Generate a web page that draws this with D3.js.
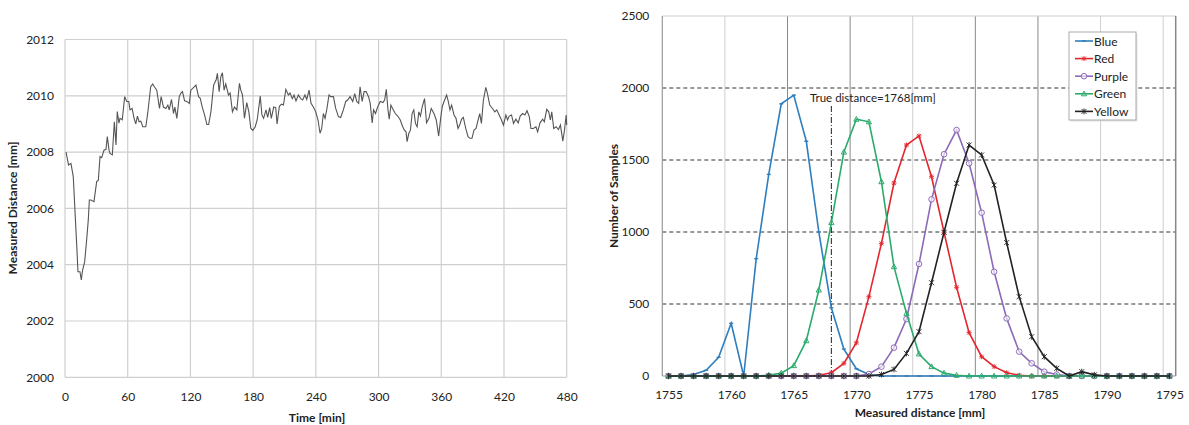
<html>

<head>
    <style>
        body { margin: 0; background: #fff; }
        text { font-family: Lato, "Open Sans", sans-serif; fill: #222; }
    </style>
</head>

<body>
    <svg id="chart" width="1189" height="425">
        <g id="left"></g>
        <g id="right"></g>
    </svg>
</body>
<script src="https://d3js.org/d3.v7.min.js"></script>
<script>
    // left chart: distance measured over time
    let timeMin = [1, 3.4, 5.7, 7.9, 11.2, 12.4, 14.3, 15.6, 16.8, 18.8, 20.7, 22.3, 23.3, 24.8, 27.7, 30.3, 31.9, 33.5, 35.1, 37.3,
        39.2, 40.5, 42.1, 43.1, 45.3, 47.2, 48.8, 50, 51.6, 52.6, 54.8, 57.1, 59, 61, 62.2, 64.2, 66.1, 67.7, 69.3, 70.9,
        72.5, 74.4, 77.3, 79.2, 82, 83.9, 85.5, 87.8, 90.4, 92, 94.2, 96.5, 98.4, 99.7, 101.9, 103.8, 105.1, 107, 109.3, 110.9,
        112.4, 114.4, 116.6, 118.9, 120.4, 122.4, 125.3, 127.8, 129.4, 131.3, 133.2, 135.8, 137.4, 139.6, 142.2, 144.7, 145.8, 147.5, 149.1, 150.6,
        152.2, 153.8, 156.4, 158, 160.2, 162.1, 164.4, 166.9, 168.2, 169.8, 171.7, 173.9, 175.9, 177.8, 179.7, 182, 183.9, 186.8, 188.4, 190,
        192.3, 193.9, 195.8, 197.4, 199.7, 201.6, 202.9, 205.1, 207.1, 209, 211.3, 213.7, 215.3, 217.5, 219.1, 221, 223.3, 225.5, 227.4, 229.6,
        231.3, 233.5, 235.4, 237.6, 239.9, 242.1, 244, 245.6, 247.2, 248.8, 250.4, 252.6, 254.2, 256.8, 259, 261.6, 263.8, 266.3, 268.6, 270.5,
        272.7, 275.3, 277.2, 279.1, 281, 282.3, 284.3, 286.2, 288.1, 290.4, 292, 293.9, 295.2, 297.1, 299.1, 301.6, 304.2, 305.8, 307.4, 309,
        310.2, 311.8, 313.8, 316, 318.3, 320.8, 323.1, 324.7, 326.3, 327.3, 328.9, 330.5, 332.1, 333.7, 335.3, 336.9, 338.5, 340.1, 341.7, 344,
        345.9, 348.2, 350.4, 353, 355.2, 357.5, 359.4, 361, 363.2, 365.1, 366.7, 368.3, 369.9, 372.2, 374.1, 376, 377.6, 379.5, 381.1, 383.4,
        385.6, 387.5, 389.4, 391.3, 393.3, 395.2, 396.8, 398.4, 400.3, 402.6, 404.2, 406.4, 409, 411.2, 413.1, 415.4, 417.6, 419.5, 421.8, 423.4,
        425, 427.2, 429.1, 431.4, 433.6, 435.5, 437.8, 440, 442, 444.2, 445.8, 448, 450.6, 452.2, 454.5, 457, 458.6, 460.9, 462.8, 464.4,
        465.7, 467.6, 469.9, 472.1, 474, 476.3, 477.9, 479.5, 480]
    let distanceMm = [2008.0, 2007.54, 2007.6, 2007.13, 2004.7, 2003.75, 2003.75, 2003.46, 2003.8, 2004.1, 2004.88, 2005.6, 2006.3, 2006.3, 2006.24, 2006.95, 2007.0, 2007.84, 2007.8, 2008.07,
        2008.1, 2008.55, 2008.07, 2007.95, 2007.9, 2009.08, 2008.25, 2009.44, 2009.03, 2009.2, 2009.15, 2009.97, 2009.8, 2009.8, 2009.5, 2009.55, 2009.2, 2009.0, 2009.28, 2009.08,
        2009.1, 2008.9, 2008.9, 2009.4, 2010.32, 2010.42, 2010.32, 2010.2, 2009.55, 2009.97, 2009.6, 2009.55, 2009.67, 2009.5, 2009.87, 2009.37, 2009.6, 2009.2, 2009.97, 2010.1,
        2010.15, 2009.82, 2009.8, 2009.73, 2010.2, 2010.27, 2010.38, 2009.97, 2009.91, 2009.6, 2009.37, 2008.98, 2008.98, 2009.43, 2010.38, 2010.58, 2010.8, 2010.15, 2010.68, 2010.82,
        2010.2, 2010.42, 2010.03, 2010.1, 2009.43, 2009.6, 2009.5, 2010.44, 2010.2, 2010.03, 2009.2, 2009.76, 2009.43, 2008.84, 2008.77, 2008.9, 2009.15, 2009.99, 2009.32, 2009.2,
        2009.5, 2009.23, 2009.58, 2009.2, 2009.6, 2009.58, 2009.0, 2009.63, 2009.7, 2009.67, 2010.23, 2010.03, 2010.1, 2009.9, 2010.03, 2009.82, 2010.03, 2009.9, 2009.85, 2010.03,
        2009.87, 2010.2, 2009.73, 2009.6, 2009.43, 2009.14, 2008.67, 2008.84, 2009.37, 2009.2, 2009.5, 2010.03, 2009.97, 2009.97, 2009.55, 2009.26, 2009.23, 2009.5, 2009.8, 2009.85,
        2009.97, 2009.8, 2010.08, 2009.8, 2009.73, 2010.32, 2009.8, 2010.15, 2010.15, 2009.97, 2009.73, 2009.04, 2009.5, 2009.37, 2009.6, 2009.8, 2009.76, 2009.85, 2010.23, 2009.5,
        2009.17, 2009.67, 2009.52, 2009.37, 2009.28, 2009.14, 2008.9, 2008.78, 2008.72, 2008.37, 2008.66, 2008.78, 2009.37, 2009.5, 2009.02, 2008.9, 2009.43, 2009.28, 2009.6, 2009.9,
        2009.04, 2009.2, 2009.55, 2009.37, 2009.14, 2008.57, 2009.2, 2009.63, 2009.85, 2010.03, 2009.8, 2009.5, 2009.67, 2009.32, 2009.2, 2008.84, 2008.96, 2009.17, 2009.23, 2008.84,
        2008.55, 2008.49, 2008.49, 2008.78, 2008.84, 2009.14, 2009.37, 2009.02, 2009.85, 2010.3, 2010.08, 2009.67, 2009.55, 2009.43, 2009.5, 2009.32, 2009.14, 2008.96, 2009.32, 2009.14,
        2009.28, 2009.32, 2009.02, 2009.17, 2009.04, 2009.28, 2009.37, 2009.32, 2009.47, 2009.26, 2008.84, 2008.84, 2008.9, 2008.72, 2009.04, 2009.17, 2009.08, 2009.52, 2009.43, 2009.14,
        2009.43, 2008.84, 2008.9, 2008.8, 2008.96, 2008.39, 2008.78, 2009.32, 2008.96]
    let timeTicks = [0, 60, 120, 180, 240, 300, 360, 420, 480]
    let distanceTicks = [2000, 2002, 2004, 2006, 2008, 2010, 2012]

    // right chart: histograms of measured distance
    let distances = [1755, 1756, 1757, 1758, 1759, 1760, 1761, 1762, 1763, 1764, 1765, 1766, 1767, 1768, 1769, 1770, 1771, 1772, 1773, 1774,
        1775, 1776, 1777, 1778, 1779, 1780, 1781, 1782, 1783, 1784, 1785, 1786, 1787, 1788, 1789, 1790, 1791, 1792, 1793, 1794, 1795]
    let blue = [0, 0, 10, 40, 130, 366, 0, 815, 1400, 1890, 1950, 1630, 1000, 474, 187, 50, 10, 0, 0, 0,
        0, 0, 0, 0, 0, 0, 0, 0, 0, 0, 0, 0, 0, 0, 0, 0, 0, 0, 0, 0, 0]
    let red = [0, 0, 0, 0, 0, 0, 0, 0, 0, 0, 0, 0, 5, 23, 88, 231, 551, 921, 1340, 1604,
        1667, 1384, 998, 616, 301, 134, 65, 23, 5, 0, 0, 0, 0, 0, 0, 0, 0, 0, 0, 0, 0]
    let purple = [0, 0, 0, 0, 0, 0, 0, 0, 0, 0, 0, 0, 0, 0, 0, 0, 14, 65, 197, 396,
        778, 1227, 1540, 1708, 1477, 1134, 724, 400, 169, 88, 30, 10, 0, 0, 0, 0, 0, 0, 0, 0, 0]
    let green = [0, 0, 0, 0, 0, 0, 0, 0, 5, 20, 72, 245, 597, 1065, 1555, 1783, 1765, 1349, 759, 435,
        153, 65, 20, 5, 0, 0, 0, 0, 0, 0, 0, 0, 0, 0, 0, 0, 0, 0, 0, 0, 0]
    let yellow = [0, 0, 0, 0, 0, 0, 0, 0, 0, 0, 0, 0, 0, 0, 0, 0, 0, 10, 46, 157,
        308, 648, 998, 1338, 1604, 1535, 1326, 926, 551, 273, 134, 53, 0, 30, 8, 0, 0, 0, 0, 0, 0]
    let seriesNames = ["Blue", "Red", "Purple", "Green", "Yellow"]
    let seriesValues = [blue, red, purple, green, yellow]
    let seriesColors = ["#2f7ebd", "#e3262e", "#8d6ab8", "#2bab6c", "#222222"]
    let sampleTicks = [0, 500, 1000, 1500, 2000, 2500]
    let distanceAxisTicks = [1755, 1760, 1765, 1770, 1775, 1780, 1785, 1790, 1795]
    let trueDistance = 1768

    let fmt = d3.format("d")

    // ---------- left chart ----------
    let left = d3.select("#left")
    let lx = d3.scaleLinear().domain([0, 480]).range([65, 566.7])
    let ly = d3.scaleLinear().domain([2000, 2012]).range([377.3, 39.5])

    left.append("g").selectAll("line").data(timeTicks).join("line")
        .attr("x1", d => lx(d)).attr("x2", d => lx(d))
        .attr("y1", ly(2000)).attr("y2", ly(2012))
        .attr("stroke", "#cfcfcf").attr("stroke-width", 1.2)
    left.append("g").selectAll("line").data(distanceTicks).join("line")
        .attr("x1", lx(0)).attr("x2", lx(480))
        .attr("y1", d => ly(d)).attr("y2", d => ly(d))
        .attr("stroke", "#cfcfcf").attr("stroke-width", 1.2)

    let yAxisL = d3.axisLeft(ly).tickValues(distanceTicks).tickFormat(fmt).tickSize(0).tickPadding(11)
    left.append("g").attr("transform", `translate(${lx(0)},0)`).call(yAxisL)
        .call(g => g.select(".domain").remove())
        .selectAll("text").style("font-size", "12px").attr("font-family", null)
    let xAxisL = d3.axisBottom(lx).tickValues(timeTicks).tickFormat(fmt).tickSize(0).tickPadding(15)
    left.append("g").attr("transform", `translate(0,${ly(2000)})`).call(xAxisL)
        .call(g => g.select(".domain").remove())
        .selectAll("text").style("font-size", "12px").attr("font-family", null)

    let lineL = d3.line().x((d, i) => lx(timeMin[i])).y(d => ly(d))
    left.append("path").datum(distanceMm)
        .attr("d", lineL)
        .attr("fill", "none").attr("stroke", "#555").attr("stroke-width", 1.1)

    left.append("text").attr("x", 317).attr("y", 422).attr("text-anchor", "middle")
        .style("font-size", "12px").style("font-weight", "bold").text("Time [min]")
    left.append("text").attr("transform", "translate(17,208) rotate(-90)").attr("text-anchor", "middle")
        .style("font-size", "12px").style("font-weight", "bold").text("Measured Distance [mm]")

    // ---------- right chart ----------
    let right = d3.select("#right")
    let rx = d3.scaleLinear().domain([1754.5, 1795.5]).range([662.3, 1175.7])
    let ry = d3.scaleLinear().domain([0, 2500]).range([376, 16])

    // vertical grid between groups of five categories
    let vGrid = [1759.5, 1764.5, 1769.5, 1774.5, 1779.5, 1784.5, 1789.5, 1794.5]
    let vGridDark = [false, true, true, false, true, true, false, false]
    right.append("g").selectAll("line").data(vGrid).join("line")
        .attr("x1", d => rx(d)).attr("x2", d => rx(d))
        .attr("y1", ry(0)).attr("y2", ry(2500))
        .attr("stroke", (d, i) => vGridDark[i] ? "#8a8a8a" : "#cfcfcf").attr("stroke-width", 1)
    right.append("g").selectAll("line").data(sampleTicks.filter(d => d > 0 && d < 2500)).join("line")
        .attr("x1", rx(1754.5)).attr("x2", rx(1795.5))
        .attr("y1", d => ry(d)).attr("y2", d => ry(d))
        .attr("stroke", "#333").attr("stroke-width", 1).attr("stroke-dasharray", "4,3")
    right.append("line").attr("x1", rx(1754.5)).attr("x2", rx(1795.5)).attr("y1", ry(2500)).attr("y2", ry(2500))
        .attr("stroke", "#cfcfcf")
    right.append("line").attr("x1", rx(1754.5)).attr("x2", rx(1754.5)).attr("y1", ry(0)).attr("y2", ry(2500))
        .attr("stroke", "#999").attr("stroke-width", 1.2)
    right.append("line").attr("x1", rx(1795.5)).attr("x2", rx(1795.5)).attr("y1", ry(0)).attr("y2", ry(2500))
        .attr("stroke", "#888").attr("stroke-width", 1.5)
    right.append("line").attr("x1", rx(1754.5)).attr("x2", rx(1795.5)).attr("y1", ry(0)).attr("y2", ry(0))
        .attr("stroke", "#999")

    let yAxisR = d3.axisLeft(ry).tickValues(sampleTicks).tickFormat(fmt).tickSize(0).tickPadding(13)
    right.append("g").attr("transform", `translate(${rx(1754.5)},0)`).call(yAxisR)
        .call(g => g.select(".domain").remove())
        .selectAll("text").style("font-size", "12px").attr("font-family", null)
    let xAxisR = d3.axisBottom(rx).tickValues(distanceAxisTicks).tickFormat(fmt).tickSize(0).tickPadding(14)
    right.append("g").attr("transform", `translate(0,${ry(0)})`).call(xAxisR)
        .call(g => g.select(".domain").remove())
        .selectAll("text").style("font-size", "12px").attr("font-family", null)

    // true distance marker
    right.append("line").attr("x1", rx(trueDistance)).attr("x2", rx(trueDistance))
        .attr("y1", ry(0)).attr("y2", 106)
        .attr("stroke", "#222").attr("stroke-width", 1).attr("stroke-dasharray", "6,2,1,2")
    right.append("text").attr("x", 810).attr("y", 102).style("font-size", "11.5px")
        .text("True distance=" + trueDistance + "[mm]")

    function marker(g, name, color) {
        if (name === "Blue") {
            g.append("line").attr("x1", -2).attr("x2", 2).attr("stroke", color).attr("stroke-width", 1.4)
        } else if (name === "Red") {
            g.append("path").attr("d", "M-2.5,0H2.5M0,-2.5V2.5M-2,-2L2,2M-2,2L2,-2").attr("stroke", color).attr("stroke-width", 0.9)
        } else if (name === "Purple") {
            g.append("circle").attr("r", 2.8).attr("fill", "#fff").attr("fill-opacity", 0.6).attr("stroke", color).attr("stroke-width", 1)
        } else if (name === "Green") {
            g.append("path").attr("d", "M0,-2.8L2.6,2L-2.6,2Z").attr("fill", "none").attr("stroke", color).attr("stroke-width", 1)
        } else {
            g.append("path").attr("d", "M-2.5,-2.5L2.5,2.5M-2.5,2.5L2.5,-2.5M0,-3V3").attr("stroke", color).attr("stroke-width", 0.9)
        }
    }

    let lineR = d3.line().x((d, i) => rx(distances[i])).y(d => ry(d))
    seriesValues.forEach((values, k) => {
        let g = right.append("g")
        g.append("path").datum(values).attr("d", lineR)
            .attr("fill", "none").attr("stroke", seriesColors[k]).attr("stroke-width", 1.6)
        g.selectAll("g").data(values).join("g")
            .attr("transform", (d, i) => `translate(${rx(distances[i])},${ry(d)})`)
            .each(function () { marker(d3.select(this), seriesNames[k], seriesColors[k]) })
    })

    // legend
    let legend = right.append("g").attr("transform", "translate(1069,32)")
    legend.append("rect").attr("x", 1.5).attr("y", 1.5).attr("width", 67).attr("height", 88)
        .attr("fill", "#ccc").attr("opacity", 0.5)
    legend.append("rect").attr("width", 67).attr("height", 88)
        .attr("fill", "#fff").attr("stroke", "#aaa")
    seriesNames.forEach((name, k) => {
        let row = legend.append("g").attr("transform", `translate(0,${9 + k * 17.6})`)
        row.append("line").attr("x1", 6).attr("x2", 24).attr("stroke", seriesColors[k]).attr("stroke-width", 1.6)
        marker(row.append("g").attr("transform", "translate(15,0)"), name, seriesColors[k])
        row.append("text").attr("x", 25).attr("y", 4.5).style("font-size", "12px").text(name)
    })

    right.append("text").attr("x", 920).attr("y", 417).attr("text-anchor", "middle")
        .style("font-size", "12px").style("font-weight", "bold").text("Measured distance [mm]")
    right.append("text").attr("transform", "translate(618,196) rotate(-90)").attr("text-anchor", "middle")
        .style("font-size", "12px").style("font-weight", "bold").text("Number of Samples")
</script>

</html>
